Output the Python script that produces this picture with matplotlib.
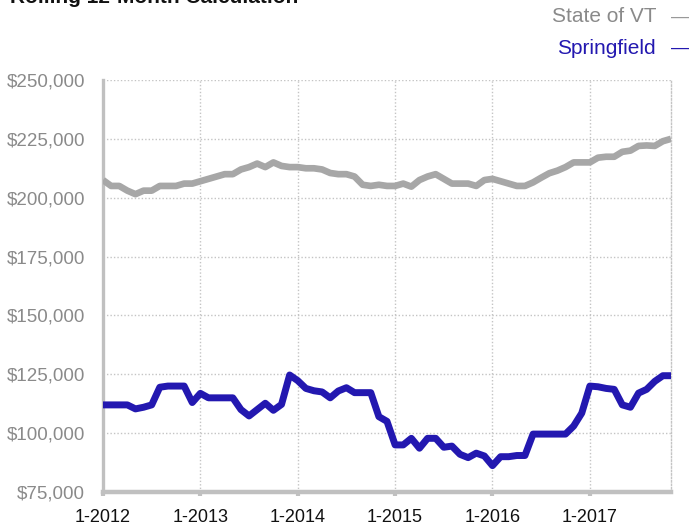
import matplotlib
matplotlib.use("Agg")
import matplotlib.pyplot as plt
from matplotlib.ticker import FuncFormatter

plt.rcParams['font.family'] = ['Liberation Sans', 'DejaVu Sans']

months = list(range(71))  # 0 = Jan 2012 ... 70 = Nov 2017
year_ticks = [0, 12, 24, 36, 48, 60]
year_labels = ["1-2012", "1-2013", "1-2014", "1-2015", "1-2016", "1-2017"]
y_ticks = [75000, 100000, 125000, 150000, 175000, 200000, 225000, 250000]

state_vt = [207.5, 205, 205, 203, 201.5, 203, 203, 205, 205, 205, 206, 206,
            207, 208, 209, 210, 210, 212, 213, 214.5, 213, 215, 213.5, 213,
            213, 212.5, 212.5, 212, 210.5, 210, 210, 209, 205.5, 205, 205.5, 205,
            205, 206, 204.7, 207.5, 209, 210, 208, 206, 206, 206, 205, 207.5,
            208, 207, 206, 205, 205, 206.5, 208.5, 210.4, 211.5, 213, 215, 215,
            215, 217, 217.4, 217.4, 219.5, 220, 222, 222.2, 222, 224, 225]
springfield = [112, 112, 112, 112, 110.3, 111, 112, 119.5, 120, 120, 120, 113,
               116.9, 115, 115, 115, 115, 110, 107.3, 110, 112.7, 109.7, 112.2, 124.7,
               122.3, 119, 118, 117.5, 115, 117.9, 119.3, 117.2, 117.2, 117.2, 107, 105,
               95, 95, 97.8, 93.6, 97.8, 97.8, 94, 94.5, 91, 89.6, 91.5, 90.3,
               86.2, 90, 90, 90.5, 90.5, 99.6, 99.6, 99.6, 99.6, 99.6, 103, 108.5,
               120, 119.7, 119, 118.6, 112, 111, 117, 118.6, 122, 124.4, 124.4]

state_vt = [v * 1000 for v in state_vt]
springfield = [v * 1000 for v in springfield]

fig = plt.figure(figsize=(6.89, 5.25), dpi=100)
ax = fig.add_axes([103 / 689, 1 - 492 / 525, (671 - 103) / 689, (492 - 80) / 525])

gray = "#a7a7a7"
blue = "#2318b0"
ax.plot(months, state_vt, color=gray, lw=4.8, solid_joinstyle='round', solid_capstyle='butt', zorder=3)
ax.plot(months, springfield, color=blue, lw=5.0, solid_joinstyle='round', solid_capstyle='butt', zorder=4)

ax.set_xlim(0, 70)
ax.set_ylim(75000, 250000)
ax.set_xticks(year_ticks)
ax.set_xticklabels(year_labels)
ax.set_yticks(y_ticks)
ax.yaxis.set_major_formatter(FuncFormatter(lambda v, p: "${:,.0f}".format(v)))

ax.grid(True, linestyle=(0, (1, 1.5)), color="#c4c4c4", lw=1, zorder=0)
ax.set_axisbelow(True)

ax.spines["top"].set_visible(False)
ax.spines["right"].set_linestyle((0, (1, 1.5)))
ax.spines["right"].set_color("#c4c4c4")
ax.spines["right"].set_linewidth(1)
ax.spines["left"].set_color("#c0c0c0")
ax.spines["left"].set_linewidth(2.4)
ax.spines["bottom"].set_color("#c0c0c0")
ax.spines["bottom"].set_linewidth(3.2)

ax.tick_params(axis='y', length=0, pad=13, labelsize=13.5, labelcolor="#8a8a8a")
ax.tick_params(axis='x', length=3, width=3, color="#c0c0c0", pad=9, labelsize=13, labelcolor="#111111")

fig.text(10 / 689, 1 - 3 / 525, "Rolling 12-Month Calculation", fontsize=15, fontweight='bold',
         color="#111111", ha='left', va='baseline')

fig.text(656 / 689, 1 - 17 / 525, "State of VT", fontsize=15, color="#8a8a8a", ha='right', va='center')
fig.text(671 / 689, 1 - 17 / 525, "—", fontsize=13, color="#999999", ha='left', va='center')
fig.text(656 / 689, 1 - 48 / 525, "Springfield", fontsize=15, color=blue, ha='right', va='center')
fig.text(671 / 689, 1 - 48 / 525, "—", fontsize=13, color=blue, ha='left', va='center')

fig.savefig("out.png", dpi=100)
